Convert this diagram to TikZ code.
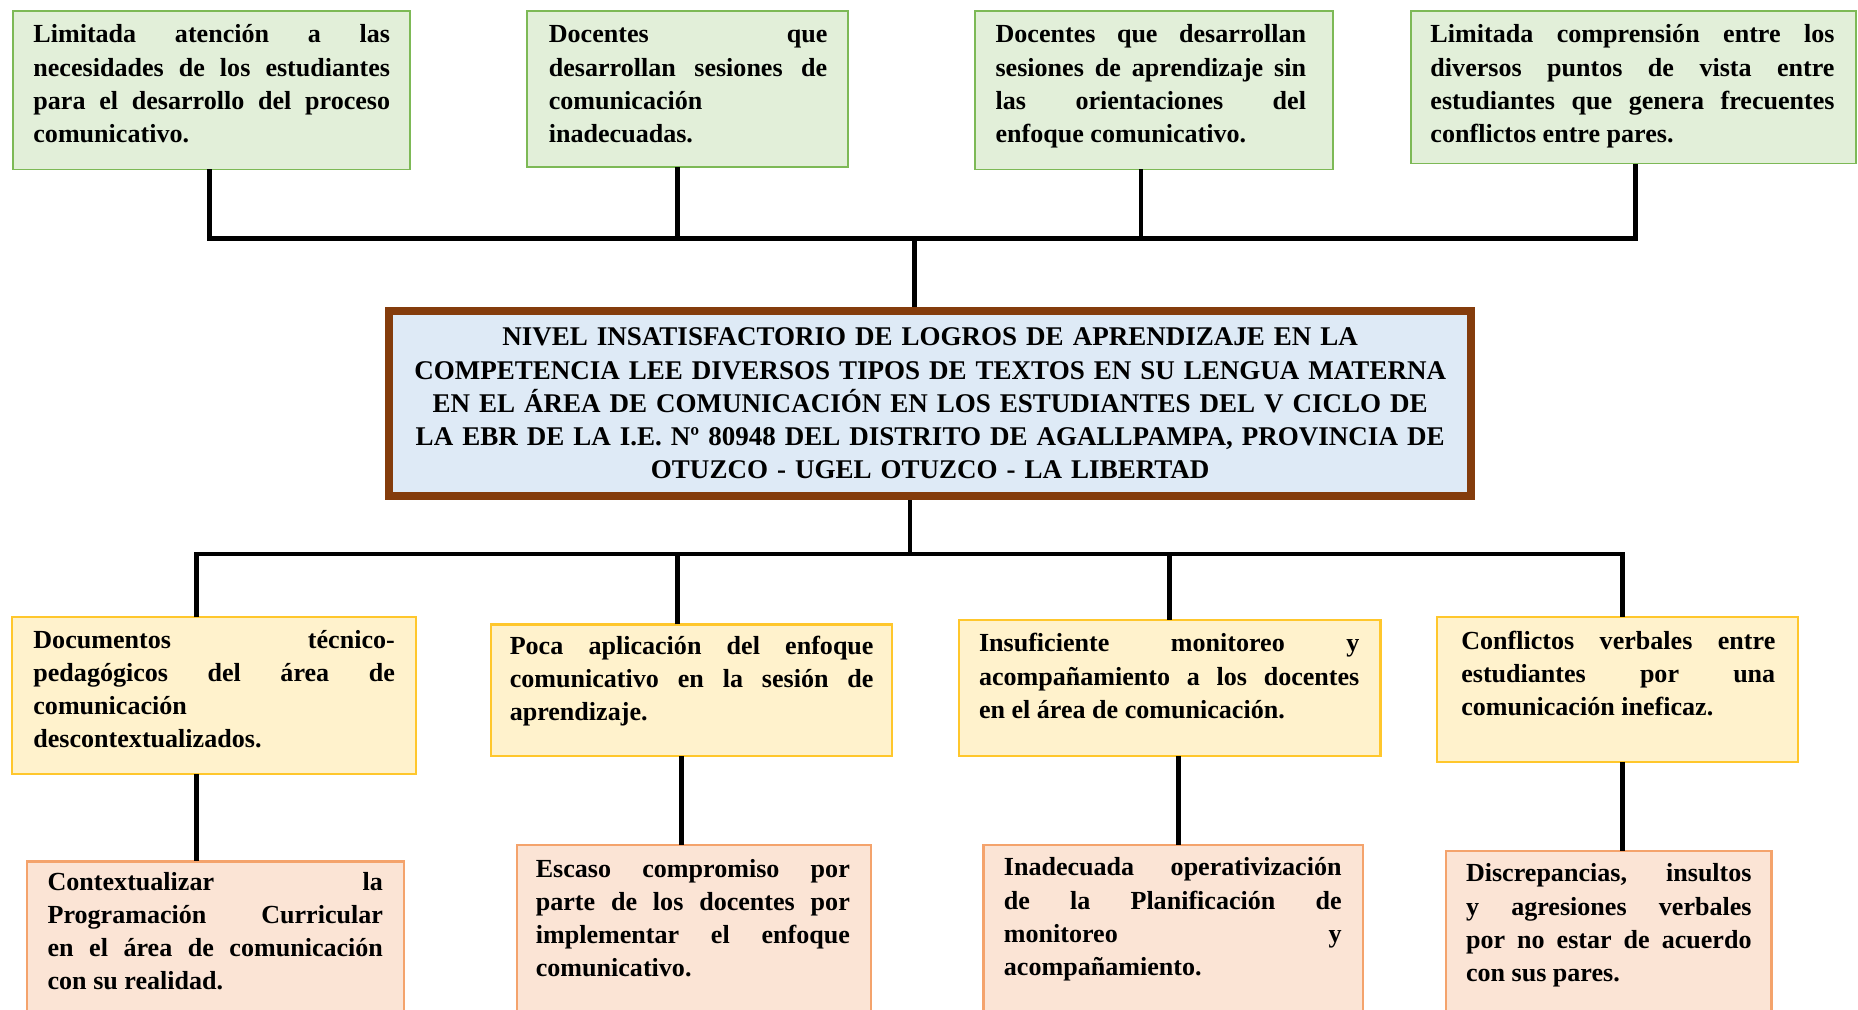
\documentclass[tikz,border=0pt]{standalone}
\usepackage{fontspec}
\setmainfont{Liberation Serif}
\definecolor{gfill}{HTML}{E2EFD9}
\definecolor{gline}{HTML}{7DB956}
\definecolor{yfill}{HTML}{FFF2CC}
\definecolor{yline}{HTML}{FFC72C}
\definecolor{ofill}{HTML}{FBE4D5}
\definecolor{oline}{HTML}{F4A36C}
\definecolor{cfill}{HTML}{DEEAF6}
\definecolor{cline}{HTML}{843C0C}
\newcommand{\fstr}{\rule{0pt}{16pt}}
\tikzset{
  conn/.style={line width=4pt, draw=black},
  boxbase/.style={rectangle, anchor=north west, inner sep=0pt, outer sep=0pt},
  gbox/.style={boxbase, draw=gline, fill=gfill, line width=1.6pt},
  ybox/.style={boxbase, draw=yline, fill=yfill, line width=1.8pt},
  obox/.style={boxbase, draw=oline, fill=ofill, line width=1.8pt},
  corebox/.style={rectangle, draw=cline, fill=cfill, line width=7pt, inner sep=0pt,
    align=center, text width=890pt, font=\bfseries\fontsize{22.8}{28}\selectfont},
  txt/.style={anchor=north west, inner sep=0pt, align=justify,
    font=\bfseries\fontsize{22}{28}\selectfont}
}
\begin{document}
\begin{tikzpicture}[x=1pt,y=-1pt]
\useasboundingbox (0,0) rectangle (1568,852);
\clip (0,0) rectangle (1568,852);
\fill[white] (0,0) rectangle (1568,852);

% top boxes
\node[gbox, minimum width=335pt, minimum height=134pt] (t1) at (11,9) {};
\node[gbox, minimum width=271pt, minimum height=132pt] (t2) at (445,9) {};
\node[gbox, minimum width=302pt, minimum height=134pt] (t3) at (823,9) {};
\node[gbox, minimum width=375pt, minimum height=129pt] (t4) at (1191,9) {};

\node[txt, text width=301pt] (t1x) at (28,20) {\fstr Limitada atención a las\linebreak necesidades de los estudiantes\linebreak para el desarrollo del proceso\linebreak comunicativo.};
\node[txt, text width=235pt] (t2x) at (463,20) {\fstr Docentes que\linebreak desarrollan sesiones de\linebreak comunicación\\ inadecuadas.};
\node[txt, text width=262pt] (t3x) at (840,20) {\fstr Docentes que desarrollan\linebreak sesiones de aprendizaje sin\linebreak las orientaciones del\linebreak enfoque comunicativo.};
\node[txt, text width=341pt] (t4x) at (1207,20) {\fstr Limitada comprensión entre los\linebreak diversos puntos de vista entre\linebreak estudiantes que genera frecuentes\linebreak conflictos entre pares.};

% core
\node[corebox, minimum width=913pt, minimum height=156pt] (core) at (785,340.5) {NIVEL INSATISFACTORIO DE LOGROS DE APRENDIZAJE EN LA\\ COMPETENCIA LEE DIVERSOS TIPOS DE TEXTOS EN SU LENGUA MATERNA\\ EN EL ÁREA DE COMUNICACIÓN EN LOS ESTUDIANTES DEL V CICLO DE\\ LA EBR DE LA I.E. Nº 80948 DEL DISTRITO DE AGALLPAMPA, PROVINCIA DE\\ OTUZCO - UGEL OTUZCO - LA LIBERTAD};

% middle boxes
\node[ybox, minimum width=341pt, minimum height=132pt] (y1) at (10,521) {};
\node[ybox, minimum width=339pt, minimum height=111pt] (y2) at (414,527) {};
\node[ybox, minimum width=356pt, minimum height=115pt] (y3) at (809,523) {};
\node[ybox, minimum width=304pt, minimum height=122pt] (y4) at (1213,521) {};

\node[txt, text width=305pt] (y1x) at (28,531) {\fstr Documentos técnico-\linebreak pedagógicos del área de\linebreak comunicación\\ descontextualizados.};
\node[txt, text width=307pt] (y2x) at (430,536) {\fstr Poca aplicación del enfoque\linebreak comunicativo en la sesión de\linebreak aprendizaje.};
\node[txt, text width=321pt] (y3x) at (826,534) {\fstr Insuficiente monitoreo y\linebreak acompañamiento a los docentes\linebreak en el área de comunicación.};
\node[txt, text width=265pt] (y4x) at (1233,532) {\fstr Conflictos verbales entre\linebreak estudiantes por una\linebreak comunicación ineficaz.};

% bottom boxes
\node[obox, minimum width=318pt, minimum height=150pt] (b1) at (23,727) {};
\node[obox, minimum width=299pt, minimum height=160pt] (b2) at (436,713) {};
\node[obox, minimum width=320pt, minimum height=160pt] (b3) at (830,713) {};
\node[obox, minimum width=275pt, minimum height=160pt] (b4) at (1220,718) {};

\node[txt, text width=283pt] (b1x) at (40,735) {\fstr Contextualizar la\linebreak Programación Curricular\linebreak en el área de comunicación\linebreak con su realidad.};
\node[txt, text width=265pt] (b2x) at (452,724) {\fstr Escaso compromiso por\linebreak parte de los docentes por\linebreak implementar el enfoque\linebreak comunicativo.};
\node[txt, text width=285pt] (b3x) at (847,723) {\fstr Inadecuada operativización\linebreak de la Planificación de\linebreak monitoreo y\linebreak acompañamiento.};
\node[txt, text width=241pt] (b4x) at (1237,728) {\fstr Discrepancias, insultos\linebreak y agresiones verbales\linebreak por no estar de acuerdo\linebreak con sus pares.};

% connectors top
\coordinate (hb1) at (772,201);
\coordinate (t1c) at ([xshift=-1.5pt]t1.south);
\coordinate (t2c) at ([xshift=-8.5pt]t2.south);
\coordinate (t3c) at ([xshift=-11pt]t3.south);
\coordinate (t4c) at ([xshift=1.5pt]t4.south);
\draw[conn] (t1c) |- (hb1) -| (t4c);
\draw[conn] (t2c) -- (t2c |- hb1);
\draw[conn] (t3c) -- (t3c |- hb1);
\draw[conn] (hb1) -- (hb1 |- core.north);

% connectors middle
\coordinate (hb2) at (768,467.5);
\coordinate (y1c) at ([xshift=-14.5pt]y1.north);
\coordinate (y2c) at ([xshift=-12pt]y2.north);
\coordinate (y3c) at ([xshift=0pt]y3.north);
\coordinate (y4c) at ([xshift=4.5pt]y4.north);
\draw[conn] (hb2 |- core.south) -- (hb2);
\draw[conn] (y1c) |- (hb2) -| (y4c);
\draw[conn] (y2c) -- (y2c |- hb2);
\draw[conn] (y3c) -- (y3c |- hb2);

% connectors bottom
\coordinate (y1d) at ([xshift=-14.5pt]y1.south);
\coordinate (y2d) at ([xshift=-8.5pt]y2.south);
\coordinate (y3d) at ([xshift=7.5pt]y3.south);
\coordinate (y4d) at ([xshift=4.5pt]y4.south);
\draw[conn] (y1d) -- (y1d |- b1.north);
\draw[conn] (y2d) -- (y2d |- b2.north);
\draw[conn] (y3d) -- (y3d |- b3.north);
\draw[conn] (y4d) -- (y4d |- b4.north);
\end{tikzpicture}
\end{document}
